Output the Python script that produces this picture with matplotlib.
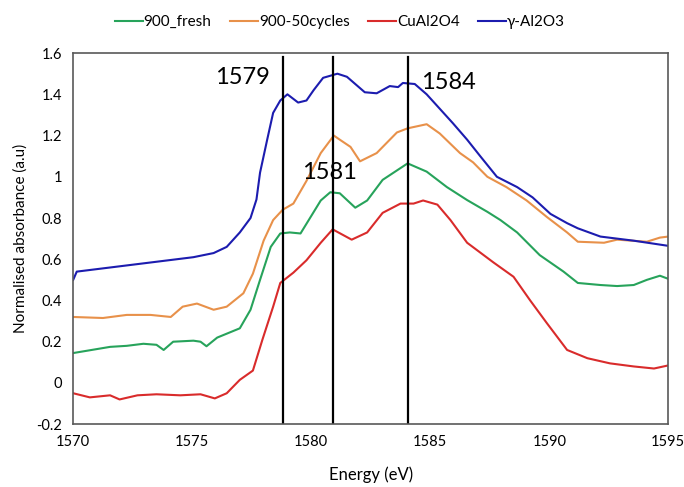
import numpy as np
import matplotlib
matplotlib.use('Agg')
import matplotlib.pyplot as plt
from matplotlib.ticker import FuncFormatter

plt.rcParams['font.family'] = ['Lato', 'DejaVu Sans']

# data (energy in eV, normalised absorbance)
e_fresh = [1570.0, 1571.55, 1572.25, 1572.95, 1573.5, 1573.8, 1574.2, 1575.05, 1575.35, 1575.6,
           1576.05, 1577.0, 1577.45, 1577.85, 1578.3, 1578.7, 1579.1, 1579.55, 1580.4, 1580.8,
           1581.2, 1581.85, 1582.35, 1583.0, 1584.05, 1584.85, 1585.7, 1586.55, 1587.4, 1587.95,
           1588.65, 1589.6, 1590.6, 1591.2, 1592.15, 1592.85, 1593.55, 1594.1, 1594.65, 1595.0]
a_fresh = [0.145, 0.175, 0.18, 0.19, 0.185, 0.16, 0.2, 0.205, 0.2, 0.178,
           0.22, 0.265, 0.355, 0.50, 0.66, 0.725, 0.73, 0.725, 0.885, 0.925,
           0.92, 0.85, 0.885, 0.985, 1.065, 1.025, 0.95, 0.887, 0.83, 0.79,
           0.73, 0.62, 0.54, 0.485, 0.475, 0.47, 0.475, 0.50, 0.52, 0.505]

e_cyc = [1570.0, 1571.25, 1572.25, 1573.25, 1574.1, 1574.6, 1575.2, 1575.9, 1576.45, 1577.15,
         1577.55, 1578.0, 1578.4, 1578.8, 1579.25, 1579.8, 1580.4, 1580.95, 1581.2, 1581.65,
         1582.05, 1582.75, 1583.6, 1584.05, 1584.85, 1585.4, 1586.25, 1586.8, 1587.4, 1588.2,
         1589.05, 1589.9, 1590.75, 1591.2, 1592.3, 1592.85, 1594.1, 1594.65, 1595.0]
a_cyc = [0.32, 0.315, 0.33, 0.33, 0.32, 0.37, 0.385, 0.355, 0.37, 0.435,
         0.53, 0.69, 0.79, 0.84, 0.87, 0.98, 1.115, 1.20, 1.18, 1.145,
         1.075, 1.115, 1.215, 1.235, 1.255, 1.21, 1.115, 1.07, 1.00, 0.95,
         0.885, 0.805, 0.73, 0.685, 0.68, 0.695, 0.685, 0.705, 0.71]

e_cu = [1570.0, 1570.7, 1571.55, 1571.95, 1572.7, 1573.5, 1574.5, 1575.35, 1575.95, 1576.45,
        1577.0, 1577.55, 1577.95, 1578.4, 1578.7, 1579.25, 1579.8, 1580.4, 1580.9, 1581.7,
        1582.35, 1583.0, 1583.75, 1584.3, 1584.7, 1585.3, 1585.85, 1586.55, 1587.65, 1588.5,
        1589.2, 1589.9, 1590.75, 1591.6, 1592.55, 1593.55, 1594.4, 1595.0]
a_cu = [-0.05, -0.07, -0.06, -0.08, -0.06, -0.055, -0.06, -0.055, -0.075, -0.05,
        0.015, 0.06, 0.21, 0.37, 0.485, 0.535, 0.595, 0.68, 0.745, 0.695,
        0.73, 0.825, 0.87, 0.87, 0.885, 0.865, 0.79, 0.68, 0.585, 0.515,
        0.40, 0.29, 0.16, 0.12, 0.095, 0.08, 0.07, 0.085]

e_al = [1570.0, 1570.15, 1571.55, 1573.65, 1575.05, 1575.9, 1576.45, 1577.0, 1577.45, 1577.7,
        1577.85, 1578.15, 1578.4, 1578.7, 1579.0, 1579.45, 1579.8, 1580.1, 1580.5, 1581.1,
        1581.5, 1581.65, 1582.25, 1582.75, 1583.3, 1583.65, 1583.85, 1584.35, 1584.85, 1585.4,
        1585.95, 1586.55, 1587.1, 1587.8, 1588.65, 1589.3, 1590.05, 1590.75, 1591.2, 1592.15,
        1593.55, 1595.0]
a_al = [0.50, 0.54, 0.56, 0.59, 0.61, 0.63, 0.66, 0.73, 0.80, 0.89,
        1.02, 1.18, 1.31, 1.37, 1.40, 1.36, 1.37, 1.42, 1.48, 1.50,
        1.485, 1.47, 1.41, 1.405, 1.44, 1.435, 1.455, 1.45, 1.40, 1.33,
        1.26, 1.18, 1.10, 1.00, 0.95, 0.90, 0.82, 0.775, 0.75, 0.71,
        0.69, 0.665]

peak_pos = [1578.8, 1580.9, 1584.05]
peak_txt = ['1579', '1581', '1584']
txt_xy = [(1577.1, 1.48), (1580.75, 1.02), (1585.75, 1.455)]

fig = plt.figure(figsize=(6.84, 4.87), dpi=100)
ax = fig.add_axes([0.107, 0.129, 0.870, 0.762])

ax.plot(e_fresh, a_fresh, color='#27a35b', lw=1.5, label='900_fresh')
ax.plot(e_cyc, a_cyc, color='#e8914a', lw=1.5, label='900-50cycles')
ax.plot(e_cu, a_cu, color='#d92b2b', lw=1.5, label='CuAl2O4')
ax.plot(e_al, a_al, color='#1c1caf', lw=1.5, label='γ-Al2O3')

for x in peak_pos:
    ax.axvline(x, color='black', lw=1.6, ymax=0.99)
for t, (x, y) in zip(peak_txt, txt_xy):
    ax.text(x, y, t, fontsize=17, ha='center', va='center')

ax.set_xlim(1570, 1595)
ax.set_ylim(-0.2, 1.6)
ax.set_xticks(np.arange(1570, 1596, 5))
ax.set_yticks(np.arange(-0.2, 1.61, 0.2))
ax.yaxis.set_major_formatter(FuncFormatter(lambda v, p: ('%.1f' % v).rstrip('0').rstrip('.') if abs(v) > 1e-9 else '0'))
ax.tick_params(length=0, labelsize=10.5, pad=8)
for s in ax.spines.values():
    s.set_color('#595959')
    s.set_linewidth(1.2)

ax.set_xlabel('Energy (eV)', fontsize=12, labelpad=12)
ax.set_ylabel('Normalised absorbance (a.u)', fontsize=11, labelpad=6)

fig.legend(loc='center', bbox_to_anchor=(0.497, 0.955), ncol=4, frameon=False,
           fontsize=11, handlelength=1.85, columnspacing=1.2, handletextpad=0.05)

fig.savefig('out.png', dpi=100)
